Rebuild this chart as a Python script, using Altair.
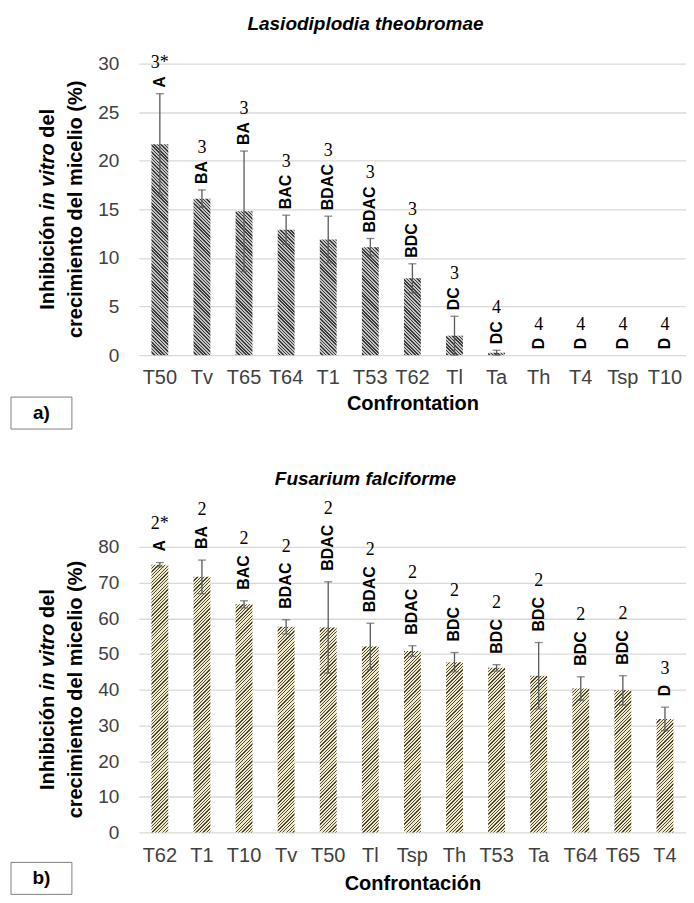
import altair as alt
import pandas as pd

# ---------------- data ----------------
a_cats = ["T50", "Tv", "T65", "T64", "T1", "T53", "T62", "Tl", "Ta", "Th", "T4", "Tsp", "T10"]
a_vals = [21.7, 16.1, 14.8, 12.9, 11.9, 11.1, 7.9, 2.0, 0.25, 0, 0, 0, 0]
a_errs = [5.2, 0.9, 6.2, 1.5, 2.4, 0.9, 1.5, 2.0, 0.25, 0, 0, 0, 0]
a_lets = ["A", "BA", "BA", "BAC", "BDAC", "BDAC", "BDC", "DC", "DC", "D", "D", "D", "D"]
a_nums = ["3*", "3", "3", "3", "3", "3", "3", "3", "4", "4", "4", "4", "4"]

b_cats = ["T62", "T1", "T10", "Tv", "T50", "Tl", "Tsp", "Th", "T53", "Ta", "T64", "T65", "T4"]
b_vals = [75.0, 71.6, 63.9, 57.6, 57.4, 52.1, 50.8, 47.7, 46.1, 43.9, 40.3, 39.8, 31.8]
b_errs = [0.6, 4.7, 1.0, 2.0, 12.8, 6.5, 1.5, 2.7, 0.9, 9.3, 3.3, 4.1, 3.3]
b_lets = ["A", "BA", "BAC", "BDAC", "BDAC", "BDAC", "BDAC", "BDC", "BDC", "BDC", "BDC", "BDC", "D"]
b_nums = ["2*", "2", "2", "2", "2", "2", "2", "2", "2", "2", "2", "2", "3"]

a_ticks = [0, 5, 10, 15, 20, 25, 30]
b_ticks = [0, 10, 20, 30, 40, 50, 60, 70, 80]

# ---------------- styling ----------------
FONT = "Liberation Sans"
SERIF = "Liberation Serif"
W = 548
GRID = "#d9d9d9"
PAD_IN = 0.6
PAD_OUT = 0.3


def stripe_fill(w, h, period, duty, light, dark, slant):
    """Linear gradient with hard stops that imitates a diagonal hatch."""
    k = (w + h) / (w * w + h * h)
    if slant == "back":
        x1, y1, x2, y2 = 1.0, 0.0, 1.0 - w * k, h * k
    else:
        x1, y1, x2, y2 = 0.0, 0.0, w * k, h * k
    n = (w + h) / (2 ** 0.5) / period
    stops = []
    j = 0
    while j < n:
        a = round(j / n, 5)
        b = round(min((j + duty) / n, 1.0), 5)
        c = round(min((j + 1) / n, 1.0), 5)
        stops += [
            alt.GradientStop(color=dark, offset=a),
            alt.GradientStop(color=dark, offset=b),
            alt.GradientStop(color=light, offset=b),
            alt.GradientStop(color=light, offset=c),
        ]
        j += 1
    return alt.LinearGradient(gradient="linear", stops=stops,
                              x1=x1, y1=y1, x2=x2, y2=y2)


def panel(cats, vals, errs, lets, nums, ticks, H, title, xtitle, tag,
          light, dark, duty, slant, lab_off, num_gap, label_pad, title_pad,
          tag_y, title_offset):
    ymax = ticks[-1]
    df = pd.DataFrame({"cat": cats, "val": vals, "err": errs,
                       "let": lets, "num": nums})
    df["lo"] = df["val"] - df["err"]
    df["hi"] = df["val"] + df["err"]
    df["n"] = df["let"].str.len()

    xs = alt.Scale(domain=cats, paddingInner=PAD_IN, paddingOuter=PAD_OUT)
    ys = alt.Scale(domain=[0, ymax], nice=False, zero=True)
    xax = alt.Axis(title=xtitle, labelAngle=0, ticks=False, domain=False,
                   labelFont=FONT, labelFontSize=20, labelColor="#404040",
                   labelPadding=label_pad, labelOverlap=False,
                   titleFont=FONT, titleFontSize=20, titleFontWeight="bold",
                   titleColor="#000000", titlePadding=title_pad)
    yax = alt.Axis(title=None, values=ticks, grid=True, gridColor=GRID,
                   gridWidth=1.3, domain=False, ticks=False,
                   labelFont=FONT, labelFontSize=19, labelColor="#404040",
                   labelPadding=20)
    X = alt.X("cat:N", scale=xs, axis=xax)

    step = W / (len(cats) - PAD_IN + 2 * PAD_OUT)
    bw = step * (1 - PAD_IN)
    ppu = H / ymax

    layers = []
    for c, v in zip(cats, vals):
        if v <= 0:
            continue
        grad = stripe_fill(bw, v * ppu, 2.4, duty, light, dark, slant)
        layers.append(
            alt.Chart(df[df["cat"] == c]).mark_bar(fill=grad).encode(
                x=X, y=alt.Y("val:Q", scale=ys, axis=yax))
        )

    eb = alt.Chart(df).transform_filter("datum.err > 0")
    layers.append(eb.mark_rule(color="#595959", strokeWidth=1.3).encode(
        x=X, y=alt.Y("lo:Q", scale=ys, axis=yax), y2="hi:Q"))
    layers.append(eb.mark_tick(color="#595959", thickness=1.3, size=8).encode(
        x=X, y=alt.Y("hi:Q", scale=ys, axis=yax)))
    layers.append(eb.mark_tick(color="#595959", thickness=1.3, size=8).encode(
        x=X, y=alt.Y("lo:Q", scale=ys, axis=yax)))

    layers.append(alt.Chart(df).mark_text(
        angle=270, align="left", baseline="middle", dx=lab_off,
        font=FONT, fontSize=16, fontWeight="bold", color="#000000").encode(
        x=X, y=alt.Y("hi:Q", scale=ys, axis=yax), text="let:N"))

    for k in range(1, 5):
        layers.append(alt.Chart(df).transform_filter(f"datum.n == {k}").mark_text(
            dy=-(lab_off + 11.55 * k + num_gap), baseline="middle",
            font=SERIF, fontSize=18, color="#000000").encode(
            x=X, y=alt.Y("hi:Q", scale=ys, axis=yax), text="num:N"))

    one = pd.DataFrame({"k": [0]})
    # y title, line 1 with italic "in vitro"
    fs = 20
    y0 = H / 2 + 10.06 * fs / 2
    pieces = [("Inhibición", "normal", 0.0),
              ("in vitro", "italic", 5.001 * fs),
              ("del", "normal", (5.001 + 3.334 + 0.278) * fs)]
    for txt, style, off in pieces:
        layers.append(alt.Chart(one).mark_text(
            text=txt, angle=270, align="left", baseline="middle",
            font=FONT, fontSize=fs, fontWeight="bold", fontStyle=style,
            color="#000000").encode(x=alt.value(-91), y=alt.value(y0 - off)))
    layers.append(alt.Chart(one).mark_text(
        text="crecimiento del micelio (%)", angle=270, align="center",
        baseline="middle", font=FONT, fontSize=fs, fontWeight="bold",
        color="#000000").encode(x=alt.value(-63), y=alt.value(H / 2)))

    # panel tag box
    layers.append(alt.Chart(one).mark_rect(
        fill="white", stroke="#7f7f7f", strokeWidth=1).encode(
        x=alt.value(-128), x2=alt.value(-67),
        y=alt.value(tag_y), y2=alt.value(tag_y + 32)))
    layers.append(alt.Chart(one).mark_text(
        text=tag, font=FONT, fontSize=19, fontWeight="bold",
        color="#000000", baseline="middle", align="center").encode(
        x=alt.value(-97.5), y=alt.value(tag_y + 16)))

    return alt.layer(*layers).properties(
        width=W, height=H,
        title=alt.TitleParams(title, font=FONT, fontSize=19,
                              fontStyle="italic", fontWeight="bold",
                              color="#000000", anchor="middle",
                              offset=title_offset, dx=-47))


top = panel(a_cats, a_vals, a_errs, a_lets, a_nums, a_ticks, 292,
            "Lasiodiplodia theobromae", "Confrontation", "a)",
            "#c4c4c4", "#3a3a3a", 0.45, "back", 6, 13, 12, 6, 334, 20)
bottom = panel(b_cats, b_vals, b_errs, b_lets, b_nums, b_ticks, 286,
               "Fusarium falciforme", "Confrontación", "b)",
               "#f3ecc8", "#474336", 0.38, "fwd", 11, 16, 13, 8, 316, 11)

chart = alt.vconcat(top, bottom, spacing=192, bounds="flush").properties(
    padding={"left": 2, "top": 6, "right": 0, "bottom": 0},
    background="white",
).configure_view(stroke=None)

chart.save("out.html", embed_options={"renderer": "svg", "actions": False})
